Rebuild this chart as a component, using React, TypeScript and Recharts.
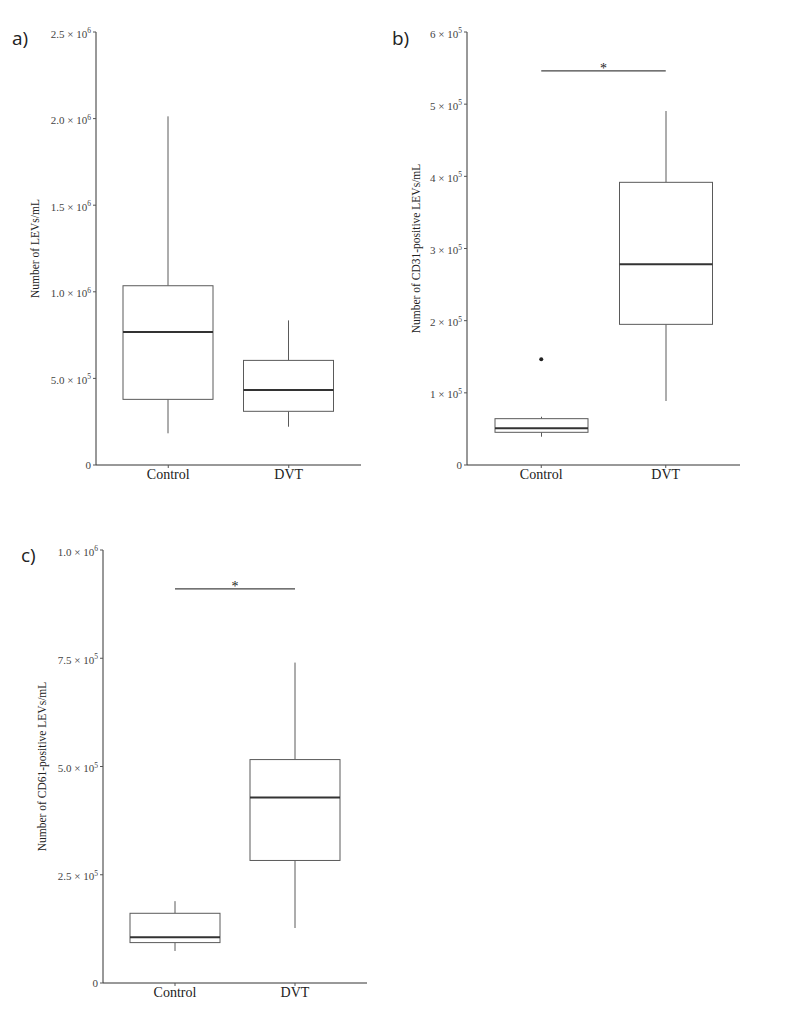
import React from 'react';
import { ComposedChart, Bar, Scatter, XAxis, YAxis, ReferenceLine } from 'recharts';

const categories = ['Control', 'DVT'];

// Panel a: Number of LEVs/mL
const aMin = [183000, 221000];
const aQ1 = [379000, 310000];
const aMedian = [768000, 433000];
const aQ3 = [1035000, 604000];
const aMax = [2013000, 835000];
const aTicks = [0, 500000, 1000000, 1500000, 2000000, 2500000];
const aTickLabels = ['0', '5.0 × 10^5', '1.0 × 10^6', '1.5 × 10^6', '2.0 × 10^6', '2.5 × 10^6'];

// Panel b: CD31-positive LEVs/mL
const bMin = [39200, 88700];
const bQ1 = [45300, 194900];
const bMedian = [50800, 278100];
const bQ3 = [64200, 391700];
const bMax = [66900, 490500];
const bOutliers = [146500, null];
const bSignif = 546000;
const bTicks = [0, 100000, 200000, 300000, 400000, 500000, 600000];
const bTickLabels = ['0', '1 × 10^5', '2 × 10^5', '3 × 10^5', '4 × 10^5', '5 × 10^5', '6 × 10^5'];

// Panel c: CD61-positive LEVs/mL
const cMin = [74000, 127000];
const cQ1 = [93300, 283000];
const cMedian = [105600, 428500];
const cQ3 = [161000, 516000];
const cMax = [189000, 740000];
const cSignif = 910000;
const cTicks = [0, 250000, 500000, 750000, 1000000];
const cTickLabels = ['0', '2.5 × 10^5', '5.0 × 10^5', '7.5 × 10^5', '1.0 × 10^6'];

const SERIF = 'Liberation Serif, Times New Roman, serif';

function buildData(mn: number[], q1: number[], md: number[], q3: number[], mx: number[], out?: (number | null)[]) {
  return categories.map((name, i) => ({
    name,
    range: [mn[i], mx[i]],
    min: mn[i],
    q1: q1[i],
    median: md[i],
    q3: q3[i],
    max: mx[i],
    outlier: out ? out[i] : null,
  }));
}

const BoxShape = (props: any) => {
  const { x, y, width, height, payload } = props;
  if (!payload) return null;
  const top = Math.min(y, y + height);
  const bot = Math.max(y, y + height);
  const { min, q1, median, q3, max } = payload;
  const py = (v: number) => top + ((bot - top) * (max - v)) / (max - min);
  const cx = x + width / 2;
  const yq3 = py(q3);
  const yq1 = py(q1);
  const ymed = py(median);
  return (
    <g>
      <line x1={cx} x2={cx} y1={py(max)} y2={yq3} stroke="#5a5a5a" strokeWidth={1} />
      <line x1={cx} x2={cx} y1={yq1} y2={py(min)} stroke="#5a5a5a" strokeWidth={1} />
      <rect x={x} y={yq3} width={width} height={yq1 - yq3} fill="#ffffff" stroke="#5a5a5a" strokeWidth={1} />
      <line x1={x} x2={x + width} y1={ymed} y2={ymed} stroke="#333333" strokeWidth={2} />
    </g>
  );
};

const OutlierShape = (s: any) => {
  if (!s || s.payload == null || s.payload.outlier == null || !isFinite(s.cy) || !isFinite(s.cx)) return <g />;
  return <circle cx={s.cx} cy={s.cy} r={2} fill="#222" />;
};

const makeYTick = (ticks: number[], labels: string[]) => (props: any) => {
  const { x, y, payload } = props;
  const idx = ticks.indexOf(payload.value);
  const label = idx >= 0 ? labels[idx] : String(payload.value);
  const parts = label.split('^');
  if (parts.length === 1) {
    return (
      <text x={x} y={y + 4} textAnchor="end" fontFamily={SERIF} fontSize={11} fill="#444">
        {label}
      </text>
    );
  }
  return (
    <text x={x} y={y + 5.5} textAnchor="end" fontFamily={SERIF} fontSize={11} fill="#444">
      <tspan>{parts[0]}</tspan>
      <tspan dy={-4.5} fontSize={7.5}>{parts[1]}</tspan>
    </text>
  );
};

const XTick = (props: any) => {
  const { x, y, payload } = props;
  return (
    <text x={x} y={y + 10} textAnchor="middle" fontFamily={SERIF} fontSize={14} fill="#222">
      {payload.value}
    </text>
  );
};

const makeYTitle = (title: string, dx: number) => (props: any) => {
  const vb = props.viewBox || {};
  const cx = (vb.x || 0) + dx;
  const cy = (vb.y || 0) + (vb.height || 0) / 2;
  return (
    <text
      x={cx}
      y={cy}
      textAnchor="middle"
      transform={`rotate(-90 ${cx} ${cy})`}
      fontFamily={SERIF}
      fontSize={11.5}
      fill="#222"
    >
      {title}
    </text>
  );
};

interface PanelProps {
  width: number;
  height: number;
  margin: { top: number; right: number; bottom: number; left: number };
  yWidth: number;
  data: any[];
  domainMax: number;
  ticks: number[];
  tickLabels: string[];
  title: string;
  titleX: number;
  barSize: number;
  hasOutliers?: boolean;
  signif?: number;
}

const Panel = (p: PanelProps) => (
  <ComposedChart width={p.width} height={p.height} data={p.data} margin={p.margin}>
    <XAxis
      dataKey="name"
      type="category"
      padding={{ left: 12, right: 12 }}
      axisLine={{ stroke: '#333', strokeWidth: 1 }}
      tickLine={{ stroke: '#555' }}
      tickSize={3}
      tickMargin={1}
      height={30}
      tick={<XTick />}
      interval={0}
    />
    <YAxis
      type="number"
      domain={[0, p.domainMax]}
      ticks={p.ticks}
      interval={0}
      width={p.yWidth}
      axisLine={{ stroke: '#333', strokeWidth: 1 }}
      tickLine={{ stroke: '#555' }}
      tickSize={3}
      tickMargin={2}
      tick={makeYTick(p.ticks, p.tickLabels)}
      allowDataOverflow
      label={makeYTitle(p.title, p.titleX)}
    />
    <Bar dataKey="range" barSize={p.barSize} shape={BoxShape} isAnimationActive={false} />
    {p.hasOutliers ? (
      <Scatter dataKey="outlier" fill="#222" isAnimationActive={false} shape={OutlierShape} />
    ) : null}
    {p.signif !== undefined ? (
      <ReferenceLine
        segment={[
          { x: 'Control', y: p.signif },
          { x: 'DVT', y: p.signif },
        ]}
        stroke="#444"
        strokeWidth={1.3}
        ifOverflow="visible"
        label={{ value: '*', position: 'top', offset: -2, fontFamily: SERIF, fontSize: 14, fill: '#222' }}
      />
    ) : null}
  </ComposedChart>
);

export default function App() {
  const aData = buildData(aMin, aQ1, aMedian, aQ3, aMax);
  const bData = buildData(bMin, bQ1, bMedian, bQ3, bMax, bOutliers);
  const cData = buildData(cMin, cQ1, cMedian, cQ3, cMax);
  return (
    <div style={{ position: 'absolute', left: 0, top: 0, width: 787, height: 1024, background: '#fff', overflow: 'hidden' }}>
      <svg width={787} height={1024} style={{ position: 'absolute', left: 0, top: 0 }}>
        <text x={12} y={45} fontFamily="Open Sans, sans-serif" fontSize={19} fill="#222">a)</text>
        <text x={392} y={45} fontFamily="Open Sans, sans-serif" fontSize={19} fill="#222">b)</text>
        <text x={21} y={562} fontFamily="Open Sans, sans-serif" fontSize={19} fill="#222">c)</text>
      </svg>
      <div style={{ position: 'absolute', left: 0, top: 0 }}>
        <Panel
          width={390}
          height={500}
          margin={{ top: 32, right: 29, bottom: 5, left: 0 }}
          yWidth={96}
          data={aData}
          domainMax={2500000}
          ticks={aTicks}
          tickLabels={aTickLabels}
          title="Number of LEVs/mL"
          titleX={39}
          barSize={90}
        />
      </div>
      <div style={{ position: 'absolute', left: 390, top: 0 }}>
        <Panel
          width={397}
          height={500}
          margin={{ top: 32, right: 47, bottom: 5, left: 0 }}
          yWidth={77}
          data={bData}
          domainMax={600000}
          ticks={bTicks}
          tickLabels={bTickLabels}
          title="Number of CD31-positive LEVs/mL"
          titleX={30}
          barSize={93}
          hasOutliers
          signif={bSignif}
        />
      </div>
      <div style={{ position: 'absolute', left: 0, top: 520 }}>
        <Panel
          width={400}
          height={504}
          margin={{ top: 30, right: 33, bottom: 11, left: 0 }}
          yWidth={103}
          data={cData}
          domainMax={1000000}
          ticks={cTicks}
          tickLabels={cTickLabels}
          title="Number of CD61-positive LEVs/mL"
          titleX={46}
          barSize={90}
          signif={cSignif}
        />
      </div>
    </div>
  );
}
